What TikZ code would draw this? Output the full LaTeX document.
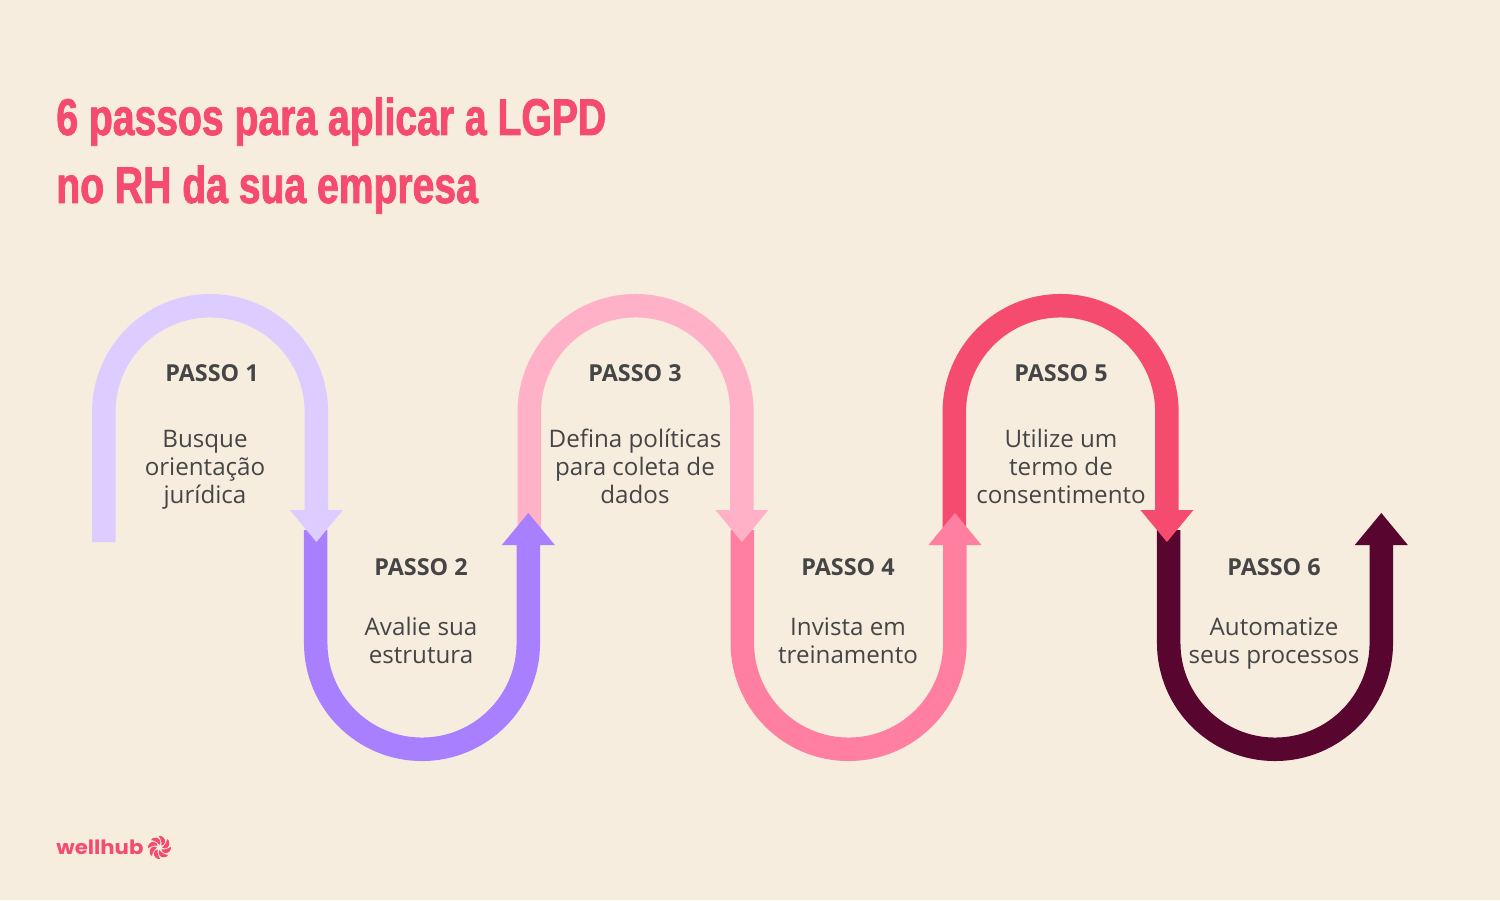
\documentclass[tikz,border=0pt]{standalone}
\usepackage{fontspec}
\setmainfont{Open Sans}
\newfontfamily\titlefont[FakeStretch=0.757,FakeBold=1.6]{Liberation Sans Bold}
\newfontfamily\logofont[FakeStretch=1.08]{Poppins Bold}
\usetikzlibrary{positioning}

\definecolor{paper}{HTML}{F6EDDF}
\definecolor{lilac}{HTML}{DDCCFF}
\definecolor{violet}{HTML}{A77FFF}
\definecolor{blush}{HTML}{FFB1C8}
\definecolor{rose}{HTML}{FF7FA0}
\definecolor{coral}{HTML}{F54B6F}
\definecolor{wine}{HTML}{58052F}
\definecolor{ink}{HTML}{454545}

\newcommand{\toparch}[2]{%
  \draw[band,#2] (#1,358) -- (#1,488) arc[start angle=180,end angle=0,radius=106.3] -- ++(0,-98);
  \fill[#2] (#1+186.1,390) -- ++(53,0) -- ++(-26.5,-32) -- cycle;
}
\newcommand{\lowarch}[2]{%
  \draw[band,#2] (#1,370) -- (#1,257) arc[start angle=180,end angle=360,radius=106.3] -- ++(0,98);
  \fill[#2] (#1+186.1,355) -- ++(53,0) -- ++(-26.5,32) -- cycle;
}

\tikzset{
  steptitle/.style={font=\fontsize{13.3}{16}\selectfont\bfseries,text=ink,inner sep=0pt},
  steptext/.style={font=\fontsize{13.75}{16}\selectfont,text=ink,align=center,inner sep=0pt},
  headline/.style={anchor=base west,inner sep=0pt,text=coral,font=\titlefont\fontsize{29.4}{30}\selectfont},
  band/.style={line width=0.47cm},
}

\begin{document}
\begin{tikzpicture}[x=0.02cm,y=0.02cm]
    \fill[paper] (0,0) rectangle (1500,900);
    \useasboundingbox (0,0) rectangle (1500,900);

    % last step first, each head lies on the next band
    \lowarch{1168.7}{wine}
    \toparch{954.3}{coral}
    \lowarch{742.3}{rose}
    \toparch{529.3}{blush}
    \lowarch{315.7}{violet}
    \toparch{103.8}{lilac}

    \node[headline] (title1) at (56,765) {6 passos para aplicar a LGPD};
    \node[headline] (title2) at (56,697) {no RH da sua empresa};

    \node[steptitle] (passo1) at (212,527) {PASSO 1};
    \node[steptitle] (passo2) at (421,333) {PASSO 2};
    \node[steptitle] (passo3) at (635,527) {PASSO 3};
    \node[steptitle] (passo4) at (848,333) {PASSO 4};
    \node[steptitle] (passo5) at (1061,527) {PASSO 5};
    \node[steptitle] (passo6) at (1274,333) {PASSO 6};

    \node[steptext] (texto1) at (205,430) {Busque\\orientação\\jurídica};
    \node[steptext] (texto2) at (421,259.5) {Avalie sua\\estrutura};
    \node[steptext] (texto3) at (635,433.5) {Defina políticas\\para coleta de\\dados};
    \node[steptext] (texto4) at (848,259) {Invista em\\treinamento};
    \node[steptext] (texto5) at (1061,433.5) {Utilize um\\termo de\\consentimento};
    \node[steptext] (texto6) at (1274,256.5) {Automatize\\seus processos};

    \node[anchor=base west,inner sep=0pt,text=coral,font=\logofont\fontsize{11.2}{14}\selectfont] (logo) at (56,46) {wellhub};
    \foreach \a in {0,45,...,315}{
      \fill[coral,shift={(159.5,52.5)},rotate=\a] (2.5,0) .. controls (5,1.5) and (7,5) .. (7.5,8.5) .. controls (10.5,7) and (10.5,2) .. (8,0) .. controls (6,-1.2) and (4,-1) .. (2.5,0);
    }
\end{tikzpicture}
\end{document}
